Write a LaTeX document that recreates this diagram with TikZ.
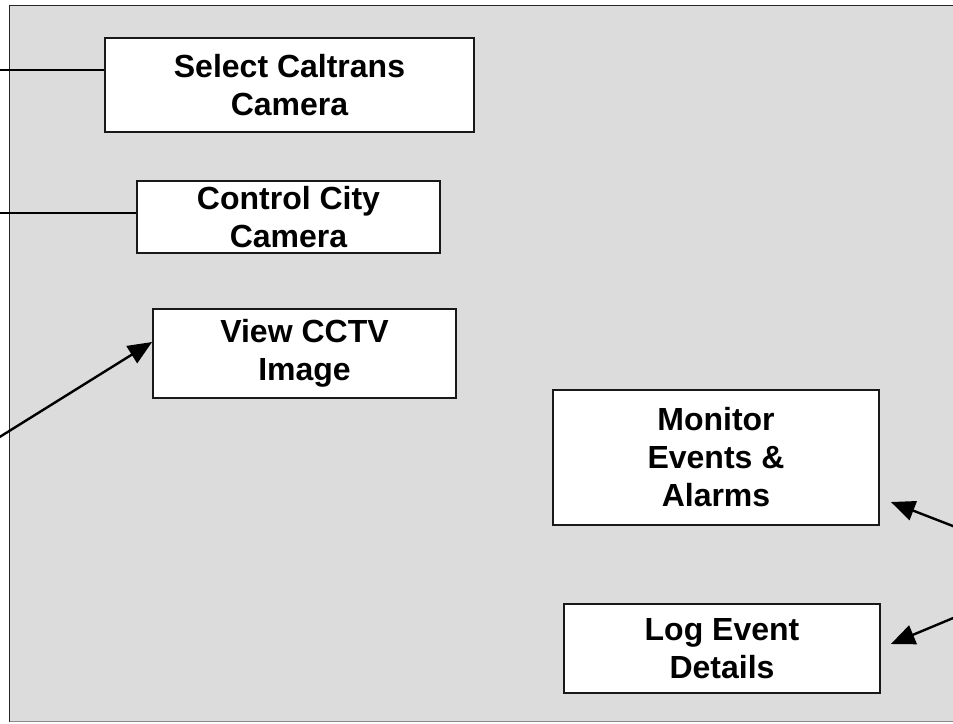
\documentclass[tikz,border=0pt]{standalone}
\usepackage{fontspec}
\setmainfont{Liberation Sans}
\usetikzlibrary{arrows.meta}
\begin{document}
\begin{tikzpicture}[x=1pt,y=-1pt,
  procbox/.style={draw=black!90, line width=1.8pt, fill=white, inner sep=0pt,
    align=center, font=\bfseries\fontsize{32}{38}\selectfont},
  link/.style={line width=2.4pt, black},
  arr/.style={line width=2.4pt, black, -{Triangle[length=24pt,width=20pt]}}]
\useasboundingbox (0,0) rectangle (953,723);
\fill[white] (0,0) rectangle (953,723);
% panel
\fill[fill={rgb,255:red,220;green,220;blue,220}] (9.5,5.5) rectangle (970,721.5);
\draw[line width=1.5pt, black!85] (970,5.5) -- (9.5,5.5) -- (9.5,721.5);
\draw[line width=1.5pt, black!45] (9.5,721.5) -- (970,721.5);
% boxes
\node[procbox, minimum width=369pt, minimum height=94pt] (sel) at (289.5,85) {Select Caltrans\\Camera};
\node[procbox, minimum width=303pt, minimum height=72pt] (ctl) at (288.5,217) {Control City\\Camera};
\node[procbox, minimum width=303pt, minimum height=89pt] (view) at (304.5,353.5) {View CCTV\\Image};
\node[procbox, minimum width=326pt, minimum height=135pt] (mon) at (716,457.5) {Monitor\\Events \&\\Alarms};
\node[procbox, minimum width=316pt, minimum height=89pt] (log) at (722,648.5) {Log Event\\Details};
% free ends
\coordinate (a1) at (-2,70);
\coordinate (a2) at (-2,213);
\coordinate (a3) at (-2,438);
\coordinate (a4) at (958,528);
\coordinate (a5) at (958,616);
% connectors
\draw[link] (a1) -- (a1 -| sel.west);
\draw[link] (a2) -- (a2 -| ctl.west);
\draw[arr] (a3) -- ([yshift=11.5pt]view.west);
\draw[arr] (a4) -- ([xshift=11pt,yshift=-44.5pt]mon.east);
\draw[arr] (a5) -- ([xshift=10pt,yshift=4.5pt]log.east);
\end{tikzpicture}
\end{document}
